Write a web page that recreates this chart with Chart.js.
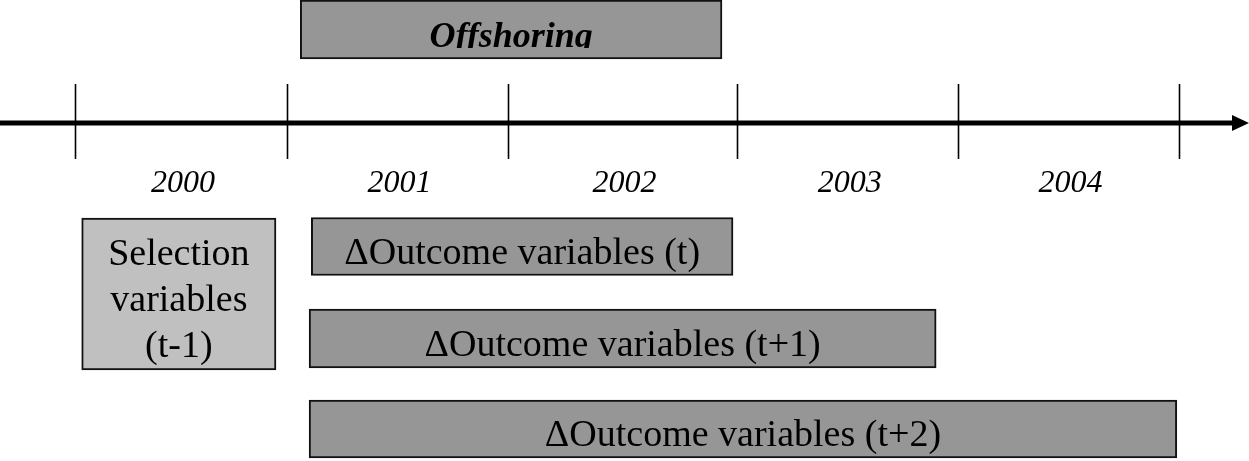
<!DOCTYPE html>
<html>
<head>
<meta charset="utf-8">
<script src="https://cdn.jsdelivr.net/npm/chart.js@4"></script>
<style>
  html, body { margin: 0; padding: 0; background: #fff; }
  #wrap { width: 1249px; height: 461px; position: relative; }
</style>
</head>
<body>
<div id="wrap"><canvas id="myChart"></canvas></div>
<script>
// timeline data (x in year units)
const years = ['2000', '2001', '2002', '2003', '2004'];
const yearBounds = [1999.5, 2000.46, 2001.46, 2002.5, 2003.5, 2004.5];

const boxLabels = [
  ['Offshoring'],
  ['Selection', 'variables', '(t-1)'],
  ['\u0394Outcome variables (t)'],
  ['\u0394Outcome variables (t+1)'],
  ['\u0394Outcome variables (t+2)']
];
const spanStart = [2000.52, 1999.53, 2000.57, 2000.56, 2000.56];
const spanEnd = [2002.43, 2000.41, 2002.48, 2003.40, 2004.49];

// layout: vertical row centre (px from top) and bar thickness
const rowY = [29.5, 294, 246.5, 338.5, 429];
const rowH = [59, 152, 58, 59, 58];
const rowColor = ['#969696', '#c0c0c0', '#969696', '#969696', '#969696'];

var datasets = [];
for (let i = 0; i < boxLabels.length; i++) {
  datasets.push({
    label: boxLabels[i].join(' '),
    data: [{ x: [spanStart[i], spanEnd[i]], y: rowY[i] }],
    backgroundColor: rowColor[i],
    borderColor: '#111',
    borderWidth: 2,
    borderSkipped: false,
    barThickness: rowH[i]
  });
}

const timeline = {
  id: 'timeline',
  beforeDatasetsDraw(chart) {
    const ctx = chart.ctx;
    const xs = chart.scales.x;
    const lineY = 123;
    ctx.save();
    // axis line + arrow
    ctx.fillStyle = '#000';
    ctx.fillRect(0, lineY - 2.5, 1236, 5);
    ctx.beginPath();
    ctx.moveTo(1232, lineY - 8);
    ctx.lineTo(1249, lineY);
    ctx.lineTo(1232, lineY + 8);
    ctx.closePath();
    ctx.fill();
    // year boundary ticks
    ctx.strokeStyle = '#000';
    ctx.lineWidth = 1.6;
    yearBounds.forEach(b => {
      const px = Math.round(xs.getPixelForValue(b)) + 0.5;
      ctx.beginPath();
      ctx.moveTo(px, 84);
      ctx.lineTo(px, 159);
      ctx.stroke();
    });
    // year labels
    ctx.font = 'italic 32px "Liberation Serif", "Times New Roman", serif';
    ctx.textAlign = 'center';
    ctx.textBaseline = 'alphabetic';
    years.forEach((yr, i) => {
      const cx = (xs.getPixelForValue(yearBounds[i]) + xs.getPixelForValue(yearBounds[i + 1])) / 2;
      ctx.fillText(yr, cx + 2, 192);
    });
    ctx.restore();
  },
  afterDatasetsDraw(chart) {
    const ctx = chart.ctx;
    ctx.save();
    ctx.fillStyle = '#000';
    ctx.textAlign = 'center';
    ctx.textBaseline = 'alphabetic';
    chart.data.datasets.forEach((ds, i) => {
      const bar = chart.getDatasetMeta(i).data[0];
      const cx = (bar.x + bar.base) / 2;
      const lines = boxLabels[i];
      ctx.save();
      if (i === 0) {
        ctx.font = 'italic bold 36px "Liberation Serif", "Times New Roman", serif';
        ctx.beginPath();
        ctx.rect(0, 0, 1249, 48);
        ctx.clip();
      } else {
        ctx.font = '38px "Liberation Serif", "Times New Roman", serif';
      }
      lines.forEach((t, k) => {
        const by = bar.y + 17 + (k - (lines.length - 1) / 2) * 46;
        ctx.fillText(t, cx, by);
      });
      ctx.restore();
    });
    ctx.restore();
  }
};

new Chart('myChart', {
  type: 'bar',
  data: { datasets: datasets },
  options: {
    indexAxis: 'y',
    responsive: true,
    maintainAspectRatio: false,
    animation: false,
    grouped: false,
    layout: { padding: 0 },
    plugins: { legend: { display: false }, tooltip: { enabled: false }, title: { display: false } },
    scales: {
      x: { type: 'linear', min: 1999.16, max: 2004.817, offset: false, display: false },
      y: { type: 'linear', min: 0, max: 461, reverse: true, offset: false, display: false }
    }
  },
  plugins: [timeline]
});
</script>
</body>
</html>
